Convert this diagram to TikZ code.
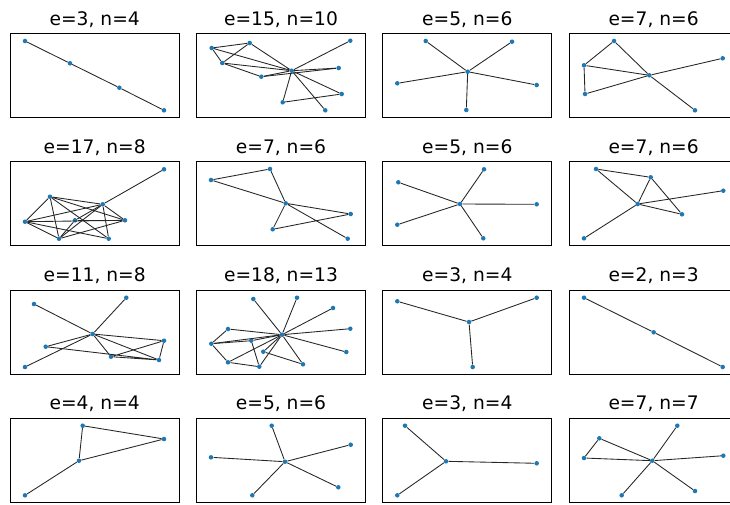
\documentclass[tikz,border=0pt]{standalone}
\usepackage{fontspec}
\setmainfont{DejaVu Sans}
\definecolor{dotblue}{HTML}{1F77B4}
\tikzset{
  dot/.style={circle,fill=dotblue,inner sep=0pt,minimum size=3.4pt},
  link/.style={draw=black!85,line width=0.65pt},
  panel/.style={draw=black,line width=0.8pt},
  ttl/.style={anchor=base,inner sep=0pt,font=\fontsize{14}{16}\selectfont}
}
\begin{document}
\begin{tikzpicture}[x=0.75pt,y=-0.75pt]
\useasboundingbox (0,0) rectangle (730,504);
\clip (0,0) rectangle (730,504);
\foreach \c in {0,1,2,3}
  \foreach \r in {0,1,2,3}
    \draw[panel] ({10.5+186.2*\c},{33.5+128.3*\r}) rectangle ++(169,84);
\node[ttl] (t1) at (94.7,25) {e=3, n=4};
\node[ttl] (t2) at (281,25) {e=15, n=10};
\node[ttl] (t3) at (467.3,25) {e=5, n=6};
\node[ttl] (t4) at (653.6,25) {e=7, n=6};
\node[ttl] (t5) at (94.7,153.3) {e=17, n=8};
\node[ttl] (t6) at (281,153.3) {e=7, n=6};
\node[ttl] (t7) at (467.3,153.3) {e=5, n=6};
\node[ttl] (t8) at (653.6,153.3) {e=7, n=6};
\node[ttl] (t9) at (94.7,281.6) {e=11, n=8};
\node[ttl] (t10) at (281,281.6) {e=18, n=13};
\node[ttl] (t11) at (467.3,281.6) {e=3, n=4};
\node[ttl] (t12) at (653.6,281.6) {e=2, n=3};
\node[ttl] (t13) at (94.7,409.9) {e=4, n=4};
\node[ttl] (t14) at (281,409.9) {e=5, n=6};
\node[ttl] (t15) at (467.3,409.9) {e=3, n=4};
\node[ttl] (t16) at (653.6,409.9) {e=7, n=7};

\node[dot] (p1a) at (25,41) {}; \node[dot] (p1b) at (70,63.3) {};
\node[dot] (p1c) at (119.3,87.7) {}; \node[dot] (p1d) at (164,110.3) {};
\draw[link] (p1a) -- (p1b) -- (p1c) -- (p1d);

\node[dot] (p2a) at (211.7,48) {}; \node[dot] (p2b) at (249.7,43) {};
\node[dot] (p2c) at (222.3,63) {}; \node[dot] (p2d) at (261.3,76.7) {};
\node[dot] (p2e) at (291.7,70.7) {}; \node[dot] (p2f) at (350.3,40.7) {};
\node[dot] (p2g) at (338.7,68) {}; \node[dot] (p2h) at (341.7,94) {};
\node[dot] (p2i) at (282.7,102.3) {}; \node[dot] (p2j) at (325.3,110.3) {};
\draw[link] (p2a) -- (p2b) -- (p2c) -- (p2a) -- (p2e) -- (p2b);
\draw[link] (p2c) -- (p2e); \draw[link] (p2c) -- (p2d) -- (p2e);
\draw[link] (p2d) -- (p2g); \draw[link] (p2e) -- (p2f);
\draw[link] (p2e) -- (p2g); \draw[link] (p2e) -- (p2h) -- (p2i) -- (p2e) -- (p2j);

\node[dot] (p3a) at (467.7,71.7) {}; \node[dot] (p3b) at (425.7,41) {};
\node[dot] (p3c) at (512,41.7) {}; \node[dot] (p3d) at (397.3,83.3) {};
\node[dot] (p3e) at (536.7,85) {}; \node[dot] (p3f) at (466.3,110) {};
\foreach \n in {b,c,d,e,f} \draw[link] (p3a) -- (p3\n);

\node[dot] (p4a) at (614,41) {}; \node[dot] (p4b) at (584,65.3) {};
\node[dot] (p4c) at (585,94) {}; \node[dot] (p4d) at (649.3,75.3) {};
\node[dot] (p4e) at (722.7,58.3) {}; \node[dot] (p4f) at (695,110.3) {};
\draw[link] (p4a) -- (p4b) -- (p4c) -- (p4d) -- (p4a);
\draw[link] (p4b) -- (p4d) -- (p4e); \draw[link] (p4d) -- (p4f);

\node[dot] (p5a) at (50,196.7) {}; \node[dot] (p5b) at (25,221.7) {};
\node[dot] (p5c) at (75,220.3) {}; \node[dot] (p5d) at (102.7,204.3) {};
\node[dot] (p5e) at (125,220.3) {}; \node[dot] (p5f) at (59,238.7) {};
\node[dot] (p5g) at (108.7,238.7) {}; \node[dot] (p5h) at (164,169.3) {};
\draw[link] (p5h) -- (p5d);
\foreach \u/\v in {a/b,a/f,a/d,a/e,a/g,b/d,b/e,b/f,b/g,c/d,c/e,c/f,d/e,d/f,d/g,e/f}
  \draw[link] (p5\u) -- (p5\v);

\node[dot] (p6a) at (211,180) {}; \node[dot] (p6b) at (270,169) {};
\node[dot] (p6c) at (285.7,203.3) {}; \node[dot] (p6d) at (350.7,214) {};
\node[dot] (p6e) at (272.7,229.3) {}; \node[dot] (p6f) at (347.7,238.7) {};
\draw[link] (p6a) -- (p6b) -- (p6c) -- (p6a);
\draw[link] (p6c) -- (p6d) -- (p6e) -- (p6c) -- (p6f);

\node[dot] (p7a) at (460,204) {}; \node[dot] (p7b) at (398.3,182.3) {};
\node[dot] (p7c) at (484,169.3) {}; \node[dot] (p7d) at (536.7,204.3) {};
\node[dot] (p7e) at (397.3,224.7) {}; \node[dot] (p7f) at (483.3,238.3) {};
\foreach \n in {b,c,d,e,f} \draw[link] (p7a) -- (p7\n);

\node[dot] (p8a) at (596,169) {}; \node[dot] (p8b) at (650.7,177.3) {};
\node[dot] (p8c) at (637.7,204) {}; \node[dot] (p8d) at (723.3,190.7) {};
\node[dot] (p8e) at (682,214.3) {}; \node[dot] (p8f) at (584,238.3) {};
\draw[link] (p8a) -- (p8b) -- (p8c) -- (p8a);
\draw[link] (p8b) -- (p8e) -- (p8c) -- (p8d); \draw[link] (p8c) -- (p8f);

\node[dot] (p9a) at (34,304) {}; \node[dot] (p9b) at (126.3,297.7) {};
\node[dot] (p9c) at (92.7,334) {}; \node[dot] (p9d) at (45.7,346.7) {};
\node[dot] (p9e) at (164,340.7) {}; \node[dot] (p9f) at (111,356.7) {};
\node[dot] (p9g) at (159,360) {}; \node[dot] (p9h) at (25,367) {};
\foreach \n in {a,b,d,e,f,g,h} \draw[link] (p9c) -- (p9\n);
\draw[link] (p9d) -- (p9g) -- (p9e) -- (p9f) -- (p9g);

\node[dot] (p10a) at (253.3,299) {}; \node[dot] (p10b) at (297,297.7) {};
\node[dot] (p10c) at (333,308) {}; \node[dot] (p10d) at (350.3,328.7) {};
\node[dot] (p10e) at (346.3,352) {}; \node[dot] (p10f) at (303,364.3) {};
\node[dot] (p10h) at (282,334.7) {}; \node[dot] (p10i) at (228,329) {};
\node[dot] (p10j) at (211.3,343.7) {}; \node[dot] (p10k) at (251.3,340.7) {};
\node[dot] (p10l) at (263.3,351.7) {}; \node[dot] (p10m) at (228,362.3) {};
\node[dot] (p10n) at (259.3,366.7) {};
\foreach \n in {a,b,c,d,e,f,i,j,k,l,m,n} \draw[link] (p10h) -- (p10\n);
\draw[link] (p10i) -- (p10j) -- (p10m) -- (p10n) -- (p10k);
\draw[link] (p10l) -- (p10f); \draw[link] (p10j) -- (p10k);

\node[dot] (p11a) at (469,322) {}; \node[dot] (p11b) at (397.3,301.3) {};
\node[dot] (p11c) at (536.7,297.7) {}; \node[dot] (p11d) at (472.7,367) {};
\foreach \n in {b,c,d} \draw[link] (p11a) -- (p11\n);

\node[dot] (p12a) at (584,297.7) {}; \node[dot] (p12b) at (653.7,332.3) {};
\node[dot] (p12c) at (722.7,367) {};
\draw[link] (p12a) -- (p12b) -- (p12c);

\node[dot] (p13a) at (82.7,425.7) {}; \node[dot] (p13b) at (164,439) {};
\node[dot] (p13c) at (79,460.7) {}; \node[dot] (p13d) at (25,495.3) {};
\draw[link] (p13a) -- (p13b) -- (p13c) -- (p13a);
\draw[link] (p13c) -- (p13d);

\node[dot] (p14a) at (285,461.7) {}; \node[dot] (p14b) at (271.7,425.7) {};
\node[dot] (p14c) at (350.7,444.7) {}; \node[dot] (p14d) at (211,457.3) {};
\node[dot] (p14e) at (338.3,487.3) {}; \node[dot] (p14f) at (252.3,495.3) {};
\foreach \n in {b,c,d,e,f} \draw[link] (p14a) -- (p14\n);

\node[dot] (p15a) at (446,461.3) {}; \node[dot] (p15b) at (405,425.7) {};
\node[dot] (p15c) at (536.7,463.3) {}; \node[dot] (p15d) at (397.3,495.3) {};
\foreach \n in {b,c,d} \draw[link] (p15a) -- (p15\n);

\node[dot] (p16a) at (599.3,438.3) {}; \node[dot] (p16b) at (584,458) {};
\node[dot] (p16c) at (652.3,460.7) {}; \node[dot] (p16d) at (677.3,425.7) {};
\node[dot] (p16e) at (723.3,455.7) {}; \node[dot] (p16f) at (695,491) {};
\node[dot] (p16g) at (621.7,495.3) {};
\draw[link] (p16a) -- (p16b) -- (p16c) -- (p16a);
\foreach \n in {d,e,f,g} \draw[link] (p16c) -- (p16\n);
\end{tikzpicture}
\end{document}
